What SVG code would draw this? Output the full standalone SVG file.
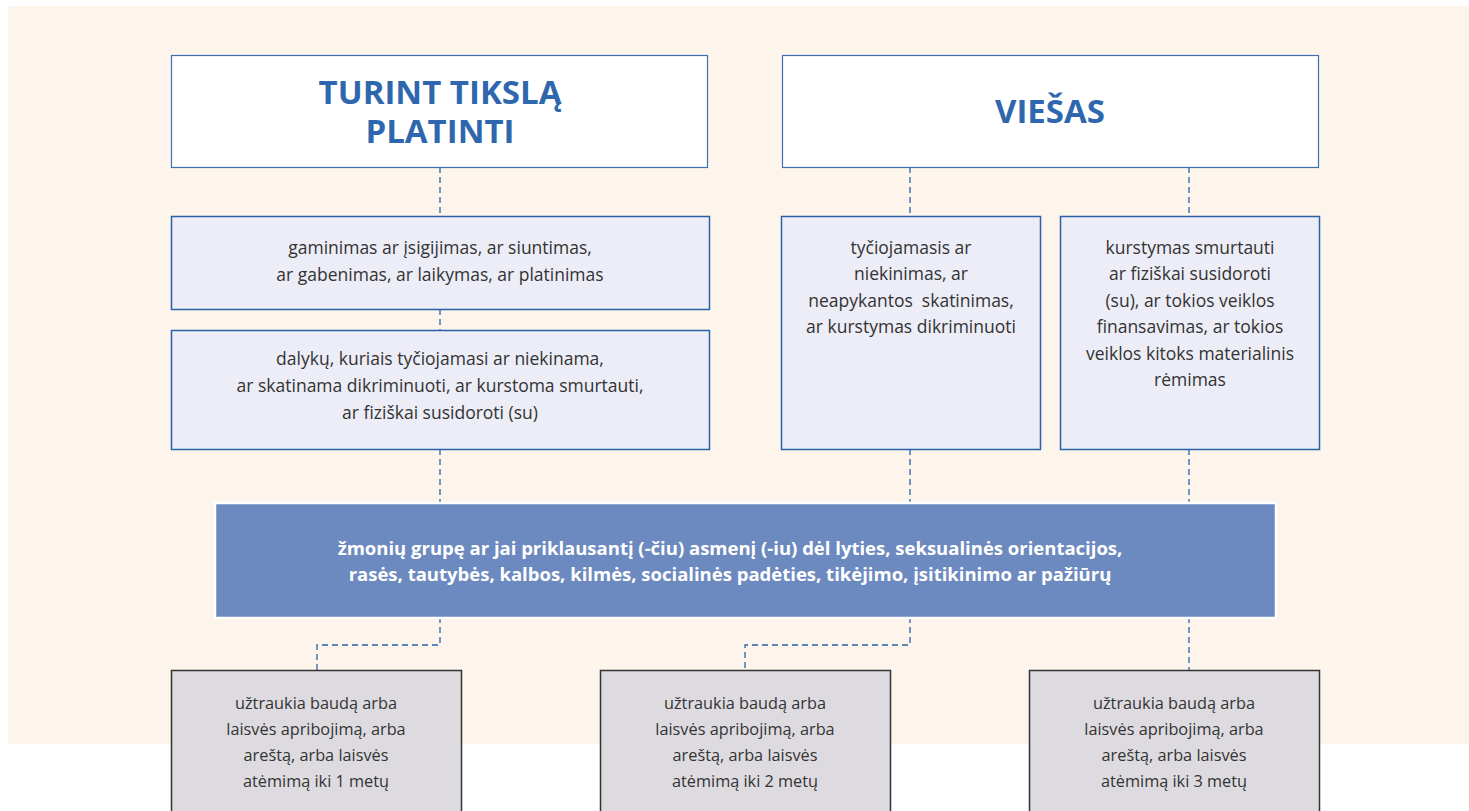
<svg xmlns="http://www.w3.org/2000/svg" width="1469" height="811" viewBox="0 0 1469 811">
<style>
.hdr{fill:#fff;stroke:#3d6fb2;stroke-width:1.2}
.lt{fill:#ecedf6;stroke:#2a62a8;stroke-width:1.5}
.gr{fill:#dddbe0;stroke:#333;stroke-width:1.5}
.band{fill:#6d8ac0;stroke:#fff;stroke-width:2.5}
.ht{font-family:"Open Sans",sans-serif;font-weight:bold;font-size:33px;fill:#2f67ae;text-anchor:middle}
.bt{font-family:"Open Sans",sans-serif;font-size:17.5px;fill:#333;text-anchor:middle}
.st{font-family:"Open Sans",sans-serif;font-size:16.3px;fill:#333;text-anchor:middle}
.wt{font-family:"Open Sans",sans-serif;font-weight:bold;font-size:18.5px;fill:#fff;text-anchor:middle}
.cn{fill:none;stroke:#2a62a8;stroke-width:1.3;stroke-dasharray:6 4}
</style>
<rect x="8" y="6" width="1461" height="738" fill="#fdf5ec"/>
<g id="connectors">
<path class="cn" d="M440 167V216M440 309V330M440 449V503M440 617V645H317V670"/>
<path class="cn" d="M910 167V216M910 449V503M910 617V645H745V670"/>
<path class="cn" d="M1189 167V216M1189 449V503M1189 617V670"/>
</g>
<g id="n-turint">
<rect class="hdr" x="171.5" y="55.5" width="536" height="112"/>
<text class="ht" x="440" y="104">TURINT TIKSLĄ</text>
<text class="ht" x="440" y="143">PLATINTI</text>
</g>
<g id="n-viesas">
<rect class="hdr" x="782.5" y="55.5" width="536" height="112"/>
<text class="ht" x="1050" y="123">VIEŠAS</text>
</g>
<g id="n-gaminimas">
<rect class="lt" x="171.5" y="216.5" width="538" height="93"/>
<text class="bt" x="440" y="254">gaminimas ar įsigijimas, ar siuntimas,</text>
<text class="bt" x="440" y="281">ar gabenimas, ar laikymas, ar platinimas</text>
</g>
<g id="n-dalyku">
<rect class="lt" x="171.5" y="330.5" width="538" height="119"/>
<text class="bt" x="440" y="365">dalykų, kuriais tyčiojamasi ar niekinama,</text>
<text class="bt" x="440" y="392">ar skatinama dikriminuoti, ar kurstoma smurtauti,</text>
<text class="bt" x="440" y="419">ar fiziškai susidoroti (su)</text>
</g>
<g id="n-tyciojamasis">
<rect class="lt" x="781.5" y="216.5" width="259" height="233"/>
<text class="bt" x="911" y="254">tyčiojamasis ar</text>
<text class="bt" x="911" y="280">niekinimas, ar</text>
<text class="bt" x="911" y="307" xml:space="preserve">neapykantos  skatinimas,</text>
<text class="bt" x="911" y="333">ar kurstymas dikriminuoti</text>
</g>
<g id="n-kurstymas">
<rect class="lt" x="1060.5" y="216.5" width="259" height="233"/>
<text class="bt" x="1190" y="254">kurstymas smurtauti</text>
<text class="bt" x="1190" y="280">ar fiziškai susidoroti</text>
<text class="bt" x="1190" y="307">(su), ar tokios veiklos</text>
<text class="bt" x="1190" y="333">finansavimas, ar tokios</text>
<text class="bt" x="1190" y="360">veiklos kitoks materialinis</text>
<text class="bt" x="1190" y="386">rėmimas</text>
</g>
<g id="n-zmoniu">
<rect class="band" x="215" y="503" width="1061" height="115"/>
<text class="wt" x="730" y="555">žmonių grupę ar jai priklausantį (-čiu) asmenį (-iu) dėl lyties, seksualinės orientacijos,</text>
<text class="wt" x="730" y="581">rasės, tautybės, kalbos, kilmės, socialinės padėties, tikėjimo, įsitikinimo ar pažiūrų</text>
</g>
<g id="n-1metu">
<rect class="gr" x="171.5" y="670.5" width="290" height="150"/>
<text class="st" x="316" y="709">užtraukia baudą arba</text>
<text class="st" x="316" y="735">laisvės apribojimą, arba</text>
<text class="st" x="316" y="761">areštą, arba laisvės</text>
<text class="st" x="316" y="787">atėmimą iki 1 metų</text>
</g>
<g id="n-2metu">
<rect class="gr" x="600.5" y="670.5" width="290" height="150"/>
<text class="st" x="745" y="709">užtraukia baudą arba</text>
<text class="st" x="745" y="735">laisvės apribojimą, arba</text>
<text class="st" x="745" y="761">areštą, arba laisvės</text>
<text class="st" x="745" y="787">atėmimą iki 2 metų</text>
</g>
<g id="n-3metu">
<rect class="gr" x="1029.5" y="670.5" width="290" height="150"/>
<text class="st" x="1174" y="709">užtraukia baudą arba</text>
<text class="st" x="1174" y="735">laisvės apribojimą, arba</text>
<text class="st" x="1174" y="761">areštą, arba laisvės</text>
<text class="st" x="1174" y="787">atėmimą iki 3 metų</text>
</g>
</svg>
